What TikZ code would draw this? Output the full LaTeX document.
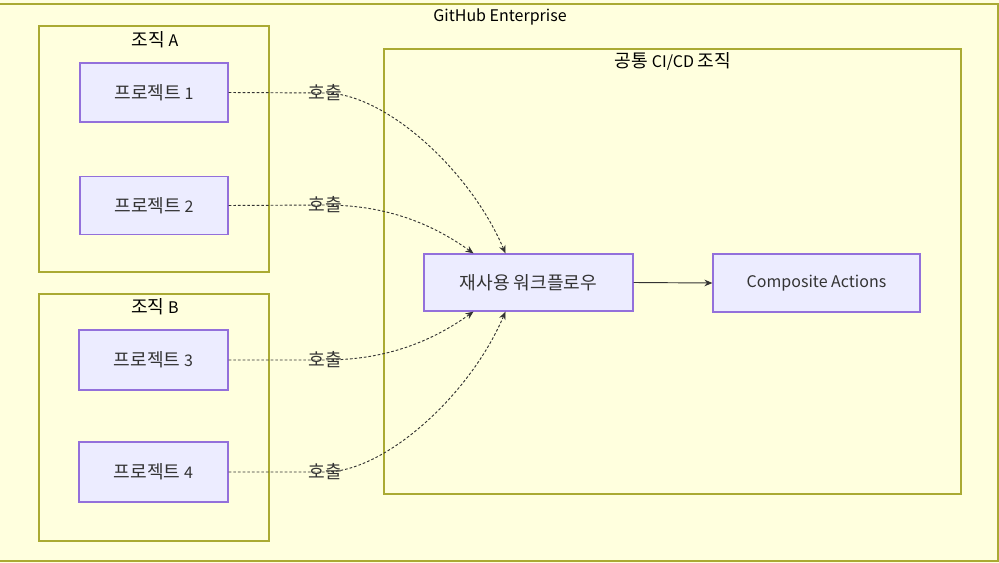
\documentclass[tikz,border=0pt]{standalone}
\usepackage{fontspec}
\setmainfont{Noto Sans CJK KR}
\usetikzlibrary{arrows.meta}
\definecolor{clfill}{HTML}{FFFFDE}
\definecolor{clstroke}{HTML}{AAAA33}
\definecolor{ndfill}{HTML}{ECECFF}
\definecolor{ndstroke}{HTML}{9370DB}
\definecolor{txt}{HTML}{333333}
\newcommand\kor[1]{{\fontsize{13.6}{15}\selectfont #1}}
\tikzset{
  cluster/.style={draw=clstroke, fill=clfill, line width=0.9pt},
  nodebox/.style={draw=ndstroke, fill=ndfill, line width=0.9pt},
  lbl/.style={text=txt, font=\fontsize{12}{14}\selectfont, inner sep=0pt},
  ttl/.style={text=black, font=\fontsize{12}{14}\selectfont, inner sep=0pt},
  edge/.style={draw=txt, dashed, dash pattern=on 2pt off 1.5pt, line width=0.7pt, -{Stealth[length=6pt,width=5pt]}},
  solidedge/.style={draw=txt, line width=0.7pt, -{Stealth[length=6pt,width=5pt]}},
}
\begin{document}
\begin{tikzpicture}[x=0.75pt, y=-0.75pt]
\useasboundingbox (0,0) rectangle (999,563);
\fill[clfill] (0,0) rectangle (999,563);
% outer cluster
\draw[cluster] (-2,4) rectangle (998,561);
\node[ttl] (tge) at (500,17) {GitHub Enterprise};
% org A
\draw[cluster] (39,26) rectangle (269,272);
\node[ttl] (ta) at (155,40) {\kor{조직} A};
% org B
\draw[cluster] (39,294) rectangle (269,541);
\node[ttl] (tb) at (155,307) {\kor{조직} B};
% common org
\draw[cluster] (384,49) rectangle (961,494);
\node[ttl] (tc) at (673,61) {\kor{공통} CI/CD \kor{조직}};
% project nodes
\node[nodebox, lbl, minimum width=148*0.75pt, minimum height=59*0.75pt] (p1) at (154,92.5) {\kor{프로젝트} 1};
\node[nodebox, lbl, minimum width=148*0.75pt, minimum height=58*0.75pt] (p2) at (154,205.5) {\kor{프로젝트} 2};
\node[nodebox, lbl, minimum width=149*0.75pt, minimum height=60*0.75pt] (p3) at (153.5,360) {\kor{프로젝트} 3};
\node[nodebox, lbl, minimum width=149*0.75pt, minimum height=60*0.75pt] (p4) at (153.5,472) {\kor{프로젝트} 4};
\node[nodebox, lbl, minimum width=209*0.75pt, minimum height=57*0.75pt] (rw) at (528.5,282.5) {\kor{재사용 워크플로우}};
\node[nodebox, lbl, minimum width=207*0.75pt, minimum height=58*0.75pt] (ca) at (816.5,283) {Composite Actions};
% labels
\node[lbl] (l1) at (325,93) {\kor{호출}};
\node[lbl] (l2) at (325,205) {\kor{호출}};
\node[lbl] (l3) at (325,360) {\kor{호출}};
\node[lbl] (l4) at (325,472) {\kor{호출}};
% edges
\draw[edge] (p1.east) -- (l1.center) .. controls (385,93) and (470,170) .. ([xshift=-23*0.75pt]rw.north);
\draw[edge] (p2.east) -- (l2.center) .. controls (390,205) and (435,226) .. ([xshift=-55*0.75pt]rw.north);
\draw[edge] (p3.east) -- (l3.center) .. controls (390,360) and (435,339) .. ([xshift=-55*0.75pt]rw.south);
\draw[edge] (p4.east) -- (l4.center) .. controls (385,472) and (470,395) .. ([xshift=-23*0.75pt]rw.south);
\draw[solidedge] (rw.east) -- (ca.west);
\end{tikzpicture}
\end{document}
